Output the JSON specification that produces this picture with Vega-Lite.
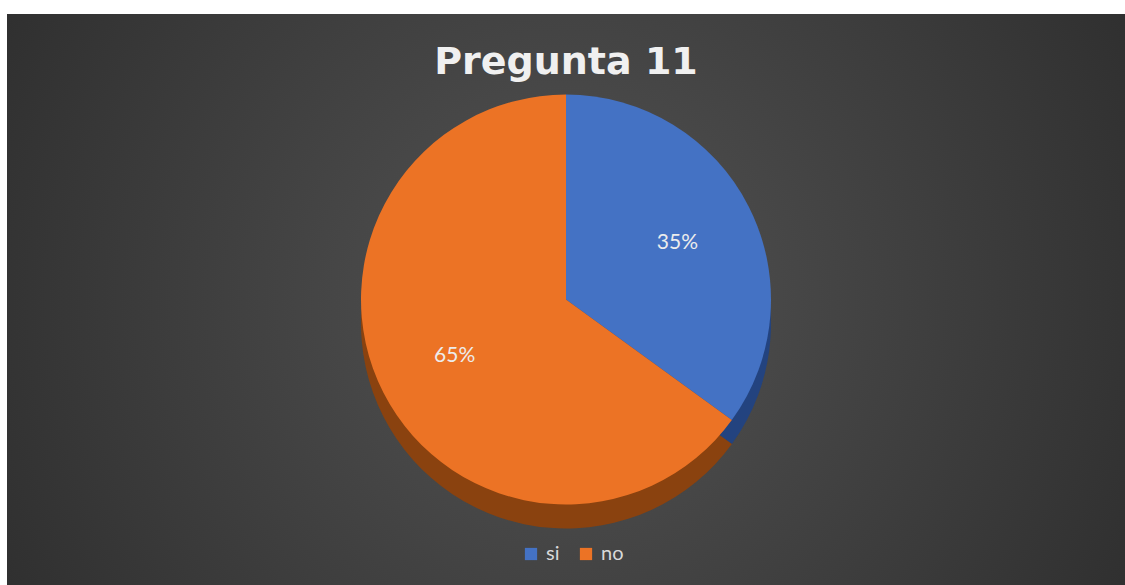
{
  "$schema": "https://vega.github.io/schema/vega-lite/v6.json",
  "autosize": {"type": "none"},
  "width": 1118,
  "height": 571,
  "padding": {"left": 7, "top": 14, "right": 0, "bottom": 0},
  "background": "#ffffff",
  "title": {
    "text": "Pregunta 11",
    "orient": "top",
    "anchor": "middle",
    "offset": -68,
    "font": "DejaVu Sans",
    "fontSize": 38,
    "fontWeight": "bold",
    "color": "#f0f0f0"
  },
  "data": {
    "values": [
      {"respuesta": "si", "porcentaje": 0.35, "orden": 1},
      {"respuesta": "no", "porcentaje": 0.65, "orden": 2}
    ]
  },
  "layer": [
    {
      "data": {"values": [{}]},
      "mark": {
        "type": "rect",
        "fill": {
          "gradient": "radial",
          "x1": 0.5, "y1": 0.5, "x2": 0.5, "y2": 0.5,
          "r1": 0, "r2": 0.72,
          "stops": [
            {"offset": 0, "color": "#535353"},
            {"offset": 1, "color": "#262626"}
          ]
        }
      },
      "encoding": {
        "x": {"value": 0},
        "x2": {"value": {"expr": "width"}},
        "y": {"value": 0},
        "y2": {"value": {"expr": "height"}}
      }
    },
    {
      "mark": {"type": "arc", "outerRadius": 205, "yOffset": 24},
      "encoding": {
        "theta": {"field": "porcentaje", "type": "quantitative", "stack": true},
        "order": {"field": "orden", "type": "ordinal"},
        "color": {
          "field": "respuesta",
          "type": "nominal",
          "scale": {"domain": ["si", "no"], "range": ["#23437f", "#8a420f"]},
          "legend": null
        }
      }
    },
    {
      "mark": {"type": "arc", "outerRadius": 205},
      "encoding": {
        "theta": {"field": "porcentaje", "type": "quantitative", "stack": true},
        "order": {"field": "orden", "type": "ordinal"},
        "color": {
          "field": "respuesta",
          "type": "nominal",
          "scale": {"domain": ["si", "no"], "range": ["#4472c4", "#ec7325"]},
          "legend": {
            "title": null,
            "orient": "none",
            "legendX": 514,
            "legendY": 530,
            "direction": "horizontal",
            "symbolType": "square",
            "symbolSize": 150,
            "symbolStrokeWidth": 0,
            "labelFont": "Lato",
            "labelFontSize": 20,
            "labelColor": "#d9d9d9",
            "columnPadding": 16,
            "labelOffset": 5
          }
        }
      }
    },
    {
      "mark": {"type": "text", "radius": 125, "font": "Lato", "fontSize": 21, "color": "#ececec"},
      "encoding": {
        "theta": {"field": "porcentaje", "type": "quantitative", "stack": true},
        "order": {"field": "orden", "type": "ordinal"},
        "text": {"field": "porcentaje", "type": "quantitative", "format": ".0%"}
      }
    }
  ],
  "resolve": {"scale": {"color": "independent", "theta": "shared"}},
  "config": {
    "view": {"stroke": null}
  }
}
